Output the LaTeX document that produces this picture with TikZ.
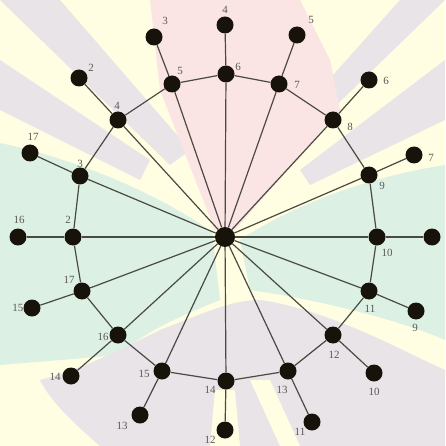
\documentclass[tikz,border=0pt]{standalone}
\usepackage{fontspec}
\setmainfont{Liberation Serif}
\definecolor{bgyel}{HTML}{FFFDE2}
\definecolor{bgcyan}{HTML}{DCF0E3}
\definecolor{bgpink}{HTML}{FAE4E4}
\definecolor{bglav}{HTML}{E8E4E8}
\definecolor{nodecol}{HTML}{17130A}
\definecolor{edgecol}{HTML}{4A4A42}
\definecolor{labelcol}{HTML}{5A5A55}
\tikzset{
  vtx/.style={circle, fill=nodecol, inner sep=0pt, minimum size=17pt},
  hub/.style={circle, fill=nodecol, inner sep=0pt, minimum size=20pt},
  lbl/.style={text=labelcol, font=\fontsize{11}{11}\selectfont, inner sep=0pt},
  edge/.style={draw=edgecol, line width=1.2pt}
}
\begin{document}
\begin{tikzpicture}[x=1pt, y=-1pt]
\useasboundingbox (0,0) rectangle (445,446);
% background watermark approximation
\fill[bgyel] (0,0) rectangle (445,446);
\fill[bglav] (0,60) -- (150,160) -- (140,180) -- (0,110) -- cycle;
\fill[bglav] (0,0) -- (60,0) -- (190,150) -- (170,165) -- cycle;
\fill[bglav] (445,60) -- (300,170) -- (310,185) -- (445,120) -- cycle;
\fill[bglav] (400,0) -- (445,0) -- (290,150) -- (275,140) -- cycle;
\fill[bgpink] (150,0) -- (300,0) -- (330,60) -- (340,110) -- (235,230) -- (215,230) -- (160,90) -- cycle;
\fill[bgcyan] (0,143) .. controls (80,160) and (160,195) .. (212,232) -- (220,300) .. controls (170,320) and (140,335) .. (120,355) -- (0,365) -- cycle;
\fill[bgcyan] (445,165) .. controls (380,175) and (300,200) .. (240,240) -- (250,290) .. controls (320,300) and (400,320) .. (445,340) -- cycle;
\fill[bglav] (40,380) .. controls (80,370) and (120,350) .. (160,330) .. controls (200,315) and (230,300) .. (260,300) .. controls (330,310) and (400,350) .. (445,370) -- (445,446) -- (100,446) .. controls (70,420) and (50,400) .. (40,380) -- cycle;
\fill[bgyel] (250,380) -- (270,380) -- (300,446) -- (280,446) -- cycle;
\fill[bgyel] (215,390) -- (235,390) -- (240,446) -- (210,446) -- cycle;

% hub
\node[hub] (c) at (225,237) {};
% rim nodes and pendants
\foreach \n/\x/\y/\px/\py in {
  2/73/237/18/237, 3/80/176/30/153, 4/118/120/79/78, 5/172/84/154/37,
  6/226/74/225/25, 7/279/84/297/35, 8/333/120/369/80, 9/369/175/414/155,
  10/377/237/432/237, 11/369/291/416/311, 12/333/335/374/373, 13/288/371/312/422,
  14/226/381/225/430, 15/162/371/140/415, 16/118/335/71/376, 17/82/291/32/308} {
  \node[vtx] (r\n) at (\x,\y) {};
  \node[vtx] (p\n) at (\px,\py) {};
}
% spokes and pendant edges
\foreach \n in {2,...,17} {
  \draw[edge] (c) -- (r\n);
  \draw[edge] (r\n) -- (p\n);
}
% rim cycle
\foreach \a/\b in {2/3,3/4,4/5,5/6,6/7,7/8,8/9,9/10,10/11,11/12,12/13,13/14,14/15,15/16,16/17,17/2} {
  \draw[edge] (r\a) -- (r\b);
}
% rim labels
\foreach \t/\x/\y in {2/68/220, 3/80/164, 4/117/106, 5/180/71, 6/238/67, 7/297/85,
  8/350/127, 9/382/186, 10/387/253, 11/370/309, 12/334/355, 13/282/390,
  14/210/390, 15/144/374, 16/103/337, 17/69/280} {
  \node[lbl] (lr\t) at (\x,\y) {\t};
}
% pendant labels
\foreach \k/\t/\x/\y in {a/16/19/220, b/17/33/137, c/2/91/68, d/3/165/21, e/4/225/10,
  f/5/311/20, g/6/386/81, h/7/431/158, i/9/415/328, j/10/374/392, k/11/300/432,
  l/12/210/440, m/13/122/426, n/14/55/377, o/15/18/308} {
  \node[lbl] (lp\k) at (\x,\y) {\t};
}
\end{tikzpicture}
\end{document}
